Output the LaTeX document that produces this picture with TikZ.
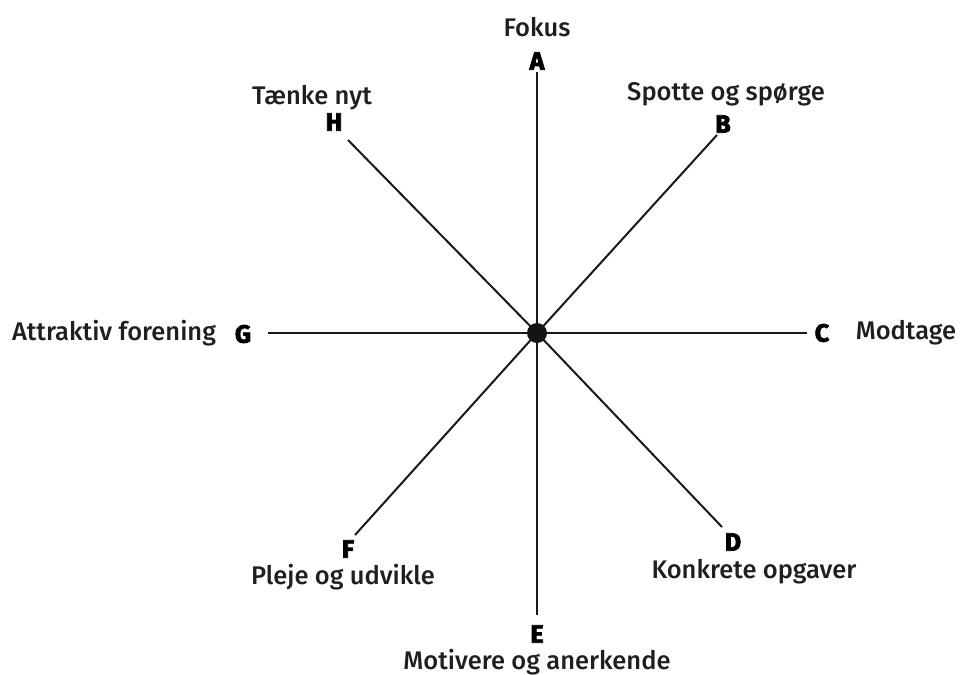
\documentclass[tikz,border=0pt]{standalone}
\usepackage{fontspec}
\setmainfont{Fira Sans}
\newfontfamily\medfont{Fira Sans Medium}
\newfontfamily\heavyfont{Fira Sans}[BoldFeatures={FakeBold=3}]
\begin{document}
\begin{tikzpicture}[x=1pt,y=-1pt,
  spoke/.style={line width=2pt,draw=black!90},
  lbl/.style={font=\medfont\fontsize{25.5}{28}\selectfont,text=black!88,inner sep=0pt},
  letter/.style={font=\heavyfont\bfseries\fontsize{25}{28}\selectfont,text=black,inner sep=0pt}]
\useasboundingbox (0,0) rectangle (962,675);
\coordinate (O) at (537,333);
\coordinate (eA) at (537,72);
\coordinate (eB) at (717,135);
\coordinate (eC) at (807,333);
\coordinate (eD) at (722,527);
\coordinate (eE) at (537,615);
\coordinate (eF) at (355,535);
\coordinate (eG) at (268,333);
\coordinate (eH) at (348,140);
\foreach \e in {eA,eB,eC,eD,eE,eF,eG,eH} \draw[spoke] (O) -- (\e);
\fill[black!92] (O) circle (10);
\node[letter] (A) at (537,61) {A};
\node[letter] (B) at (723,124) {B};
\node[letter] (C) at (822,333) {C};
\node[letter] (D) at (733,542) {D};
\node[letter] (E) at (537,634) {E};
\node[letter] (F) at (348,549) {F};
\node[letter] (G) at (243,334) {G};
\node[letter] (H) at (334,122) {H};
\node[lbl] (tA) at (537,27) {Fokus};
\node[lbl] (tB) at (726,94) {Spotte og spørge};
\node[lbl] (tC) at (906,333) {Modtage};
\node[lbl] (tD) at (754,572) {Konkrete opgaver};
\node[lbl] (tE) at (537,662) {Motivere og anerkende};
\node[lbl] (tF) at (343,577) {Pleje og udvikle};
\node[lbl] (tG) at (114,333) {Attraktiv forening};
\node[lbl] (tH) at (312,98) {Tænke nyt};
\end{tikzpicture}
\end{document}
